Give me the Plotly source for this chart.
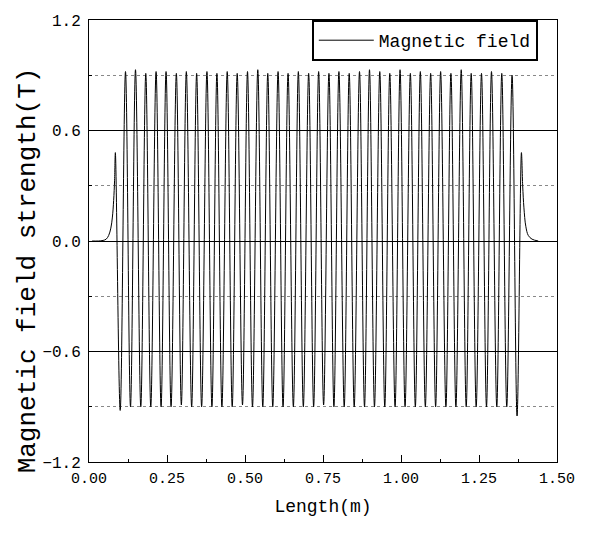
import plotly.graph_objects as go

# Field profile: rise, alternating extrema, decay
head_x = [0.010, 0.030, 0.045, 0.055, 0.063, 0.070, 0.075, 0.079, 0.082, 0.0845]
head_y = [0.000, 0.000, 0.003, 0.010, 0.030, 0.070, 0.130, 0.220, 0.330, 0.480]

peak_x = [
    0.100, 0.117, 0.133, 0.149, 0.166, 0.182, 0.198, 0.215, 0.231, 0.247,
    0.263, 0.280, 0.296, 0.312, 0.329, 0.345, 0.361, 0.378, 0.394, 0.410,
    0.426, 0.443, 0.459, 0.475, 0.492, 0.508, 0.524, 0.541, 0.557, 0.573,
    0.589, 0.606, 0.622, 0.638, 0.655, 0.671, 0.687, 0.704, 0.720, 0.736,
    0.752, 0.769, 0.785, 0.801, 0.818, 0.834, 0.850, 0.867, 0.883, 0.899,
    0.915, 0.932, 0.948, 0.964, 0.981, 0.997, 1.013, 1.030, 1.046, 1.062,
    1.078, 1.095, 1.111, 1.127, 1.144, 1.160, 1.176, 1.193, 1.209, 1.225,
    1.241, 1.258, 1.274, 1.290, 1.307, 1.323, 1.339, 1.356, 1.372,
]
peak_y = [
    -0.92, 0.92, -0.90, 0.93, -0.90, 0.91, -0.90, 0.92, -0.90, 0.92,
    -0.90, 0.91, -0.89, 0.92, -0.90, 0.91, -0.90, 0.92, -0.90, 0.91,
    -0.90, 0.92, -0.90, 0.91, -0.89, 0.92, -0.90, 0.93, -0.90, 0.91,
    -0.90, 0.92, -0.90, 0.91, -0.90, 0.92, -0.90, 0.91, -0.90, 0.92,
    -0.89, 0.91, -0.90, 0.92, -0.90, 0.91, -0.90, 0.92, -0.90, 0.93,
    -0.90, 0.92, -0.90, 0.91, -0.90, 0.93, -0.90, 0.91, -0.90, 0.92,
    -0.90, 0.91, -0.90, 0.92, -0.90, 0.91, -0.90, 0.93, -0.90, 0.91,
    -0.90, 0.91, -0.90, 0.92, -0.90, 0.91, -0.90, 0.90, -0.95,
]

tail_x = [1.386, 1.390, 1.394, 1.400, 1.408, 1.420, 1.440]
tail_y = [0.480, 0.300, 0.180, 0.080, 0.030, 0.010, 0.000]

x_all = head_x + peak_x + tail_x
y_all = head_y + peak_y + tail_y

FONT = "Liberation Mono"

fig = go.Figure()
fig.add_trace(go.Scatter(
    x=x_all, y=y_all, mode="lines", name="Magnetic field",
    line=dict(color="black", width=1, shape="spline", smoothing=1),
))

fig.update_layout(
    width=593, height=534,
    margin=dict(l=81, r=44, t=12, b=80, autoexpand=False),
    paper_bgcolor="white", plot_bgcolor="white",
    font=dict(family=FONT, color="black", size=15),
    showlegend=True,
    legend=dict(
        x=0.959, y=1.0, xanchor="right", yanchor="top",
        bordercolor="black", borderwidth=2, bgcolor="white",
        itemwidth=55,
        font=dict(family=FONT, size=18, color="black"),
    ),
    xaxis=dict(
        range=[0, 1.5], dtick=0.25, tick0=0, tickformat=".2f",
        ticks="inside", ticklen=7, tickcolor="black",
        showline=True, linecolor="black", linewidth=1, mirror=True,
        showgrid=False, zeroline=False, automargin=False,
        ticklabelstandoff=2,
        minor=dict(dtick=0.125, ticks="inside", ticklen=3, tickcolor="black", showgrid=False),
        title=dict(text="Length(m)", font=dict(family=FONT, size=18), standoff=12),
        tickfont=dict(family=FONT, size=15),
    ),
    yaxis=dict(
        range=[-1.2, 1.2], dtick=0.6, tick0=0, tickformat=".1f",
        ticks="inside", ticklen=5, tickcolor="black",
        showline=True, linecolor="black", linewidth=1, mirror=True,
        showgrid=True, gridcolor="black", gridwidth=1, zeroline=False, automargin=False,
        ticklabelstandoff=4,
        minor=dict(dtick=0.3, ticks="inside", ticklen=3, tickcolor="black",
                   showgrid=True, gridcolor="#888888", griddash="dot", gridwidth=1),
        tickfont=dict(family=FONT, size=16),
    ),
    annotations=[dict(
        text="Magnetic field strength(T)", textangle=-90,
        xref="paper", yref="paper", x=-0.130, y=0.434,
        xanchor="center", yanchor="middle", showarrow=False,
        font=dict(family=FONT, size=26, color="black"),
    )],
)

fig.write_html("out.html")
